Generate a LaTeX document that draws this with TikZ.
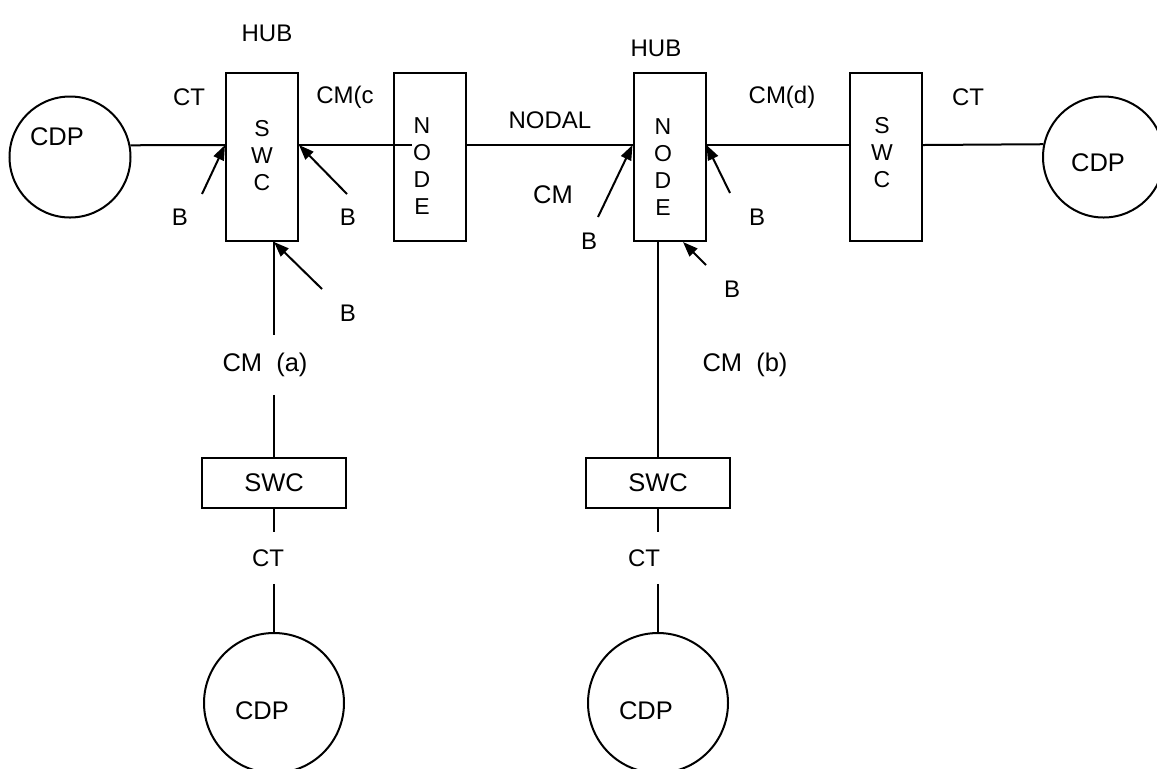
\documentclass[tikz,border=0pt]{standalone}
\usepackage{fontspec}
\setmainfont{Liberation Sans}
\usetikzlibrary{calc, positioning}
\usetikzlibrary{arrows.meta}

\begin{document}
\begin{tikzpicture}[x=0.5pt,y=-0.5pt, line width=1pt,
  vbox/.style={draw, minimum width=36pt, minimum height=84pt, inner sep=0pt},
  hbox/.style={draw, minimum width=72pt, minimum height=25pt, inner sep=0pt, font=\fontsize{12.75}{15}\selectfont},
  cdp/.style={draw, circle, inner sep=0pt},
  cdptext/.style={font=\fontsize{12.75}{15}\selectfont},
  letters/.style={align=center, inner sep=0pt, font=\fontsize{11.5}{13.5}\selectfont},
  lbl/.style={inner sep=0pt, font=\fontsize{12}{14}\selectfont},
  biglbl/.style={inner sep=0pt, font=\fontsize{12.75}{15}\selectfont},
  barrow/.style={-{Triangle[length=7.5pt,width=5.5pt]}}]
\useasboundingbox (0,0) rectangle (1157,768);
\coordinate (bus) at (0,145);

\node[cdp, minimum size=60.5pt, label={[cdptext, xshift=-6.5pt, yshift=10pt]center:CDP}] (cdpL) at (70,157) {};
\node[vbox] (swcL) at (262,157) {};
\node[letters] (swcLtxt) at (262,156) {S\\W\\C};
\node[vbox] (nodeL) at (430,157) {};
\node[letters] (nodeLtxt) at (422,166) {N\\O\\D\\E};
\node[vbox] (hub) at (669.5,157) {};
\node[letters] (hubtxt) at (663,167) {N\\O\\D\\E};
\node[vbox] (swcR) at (886,157) {};
\node[letters] (swcRtxt) at (882,153) {S\\W\\C};
\node[cdp, minimum size=60.5pt, label={[cdptext, xshift=-2.75pt, yshift=-3pt]center:CDP}] (cdpR) at (1103.5,157) {};
\node[hbox] (swcLb) at (274,483) {SWC};
\node[hbox] (swcRb) at (658,483) {SWC};
\node[cdp, minimum size=70pt, label={[cdptext, xshift=-6pt, yshift=-4pt]center:CDP}] (cdpLb) at (274,703) {};
\node[cdp, minimum size=70pt, label={[cdptext, xshift=-6pt, yshift=-4pt]center:CDP}] (cdpRb) at (658,703) {};

\node[lbl] (hubL) at (267,33) {HUB};
\node[lbl] (hubR) at (656,48) {HUB};
\node[lbl] (ctL) at (189,97) {CT};
\node[lbl] (cmC) at (345,97) {CM(c};
\node[lbl] (nodal) at (550,120) {NODAL};
\node[lbl] (cmD) at (782,97) {CM(d)};
\node[lbl] (ctR) at (968,97) {CT};
\node[biglbl] (cm) at (553,195) {CM};
\node[biglbl, inner ysep=8.5pt] (cmA) at (265,365) {CM\ \ (a)};
\node[biglbl] (cmB) at (745,365) {CM\ \ (b)};
\node[lbl, inner ysep=8.2pt] (ctLb) at (268,558) {CT};
\node[lbl, inner ysep=8.2pt] (ctRb) at (644,558) {CT};

\node[lbl] (bL1) at (180,217) {B};
\node[lbl] (bL2) at (348,217) {B};
\node[lbl] (bL3) at (348,313) {B};
\node[lbl] (bH1) at (589,241) {B};
\node[lbl] (bH2) at (757,217) {B};
\node[lbl] (bH3) at (732,289) {B};

\draw (cdpL.11.4) -- (bus -| swcL.west);
\draw (bus -| swcL.east) -- (bus -| nodeLtxt.west);
\draw (bus -| nodeL.east) -- (bus -| hub.west);
\draw (bus -| hub.east) -- (bus -| swcR.west);
\draw (bus -| swcR.east) -- (cdpR.168.6);

\draw (swcL.south -| swcLb.north) -- (cmA.north -| swcLb.north);
\draw (cmA.south -| swcLb.north) -- (swcLb.north);
\draw (hub.south -| swcRb.north) -- (swcRb.north);
\draw (swcLb.south) -- (ctLb.north -| swcLb.south);
\draw (ctLb.south -| swcLb.south) -- (cdpLb.north);
\draw (swcRb.south) -- (ctRb.north -| swcRb.south);
\draw (ctRb.south -| swcRb.south) -- (cdpRb.north);

\coordinate (tL1) at (202,194);
\coordinate (tL2) at (347,194);
\coordinate (tL3) at (322,289);
\coordinate (tH1) at (598,217);
\coordinate (tH2) at (730,193);
\coordinate (tH3) at (706,265);
\draw[barrow] (tL1) -- (bus -| swcL.west);
\draw[barrow] (tL2) -- (bus -| swcL.east);
\draw[barrow] (tL3) -- (swcL.south -| swcLb.north);
\draw[barrow] (tH1) -- (bus -| hub.west);
\draw[barrow] (tH2) -- (bus -| hub.east);
\draw[barrow] (tH3) -- ($(hub.south)+(13.5,0)$);
\end{tikzpicture}
\end{document}
